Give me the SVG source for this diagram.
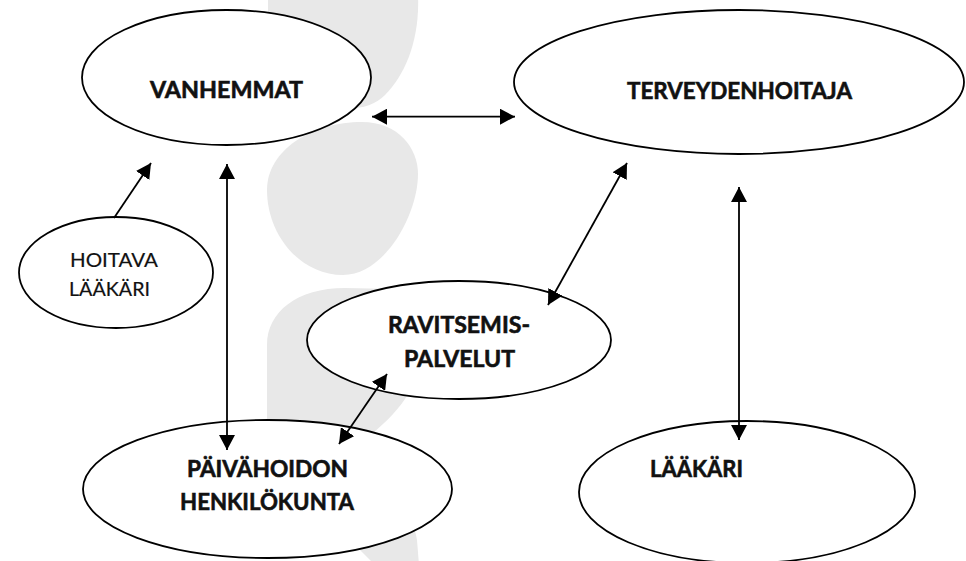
<svg xmlns="http://www.w3.org/2000/svg" width="966" height="561" viewBox="0 0 966 561">
<style>
.wm{fill:#e8e8e8;stroke:none}
.node{fill:#ffffff;stroke:#000000;stroke-width:1.8}
.lb{font-family:Lato,"Open Sans","Liberation Sans",sans-serif;font-weight:bold;font-size:23px;fill:#111111;stroke:#111111;stroke-width:0.6}
.lr{font-family:Lato,"Open Sans","Liberation Sans",sans-serif;font-weight:normal;font-size:20px;fill:#111111;stroke:#111111;stroke-width:0.2}
.edge{fill:none;stroke:#000000;stroke-width:1.8}
</style>
<defs>
<marker id="ah" viewBox="0 0 15 16" refX="15" refY="8" markerWidth="15" markerHeight="16" markerUnits="userSpaceOnUse" orient="auto-start-reverse">
<path d="M0,0 L15,8 L0,16 Z" fill="#000000"/>
</marker>
</defs>
<rect x="0" y="0" width="966" height="561" fill="#ffffff"/>
<g id="watermark">
<path class="wm" d="M268,-5 L418,-5 C420,40 405,75 385,95 C375,105 360,110 340,108 C300,100 280,60 268,30 Z"/>
<path class="wm" d="M362,122 C398,122 418,148 418,174 C418,214 385,275 343,275 C300,275 267,235 267,190 C267,150 312,122 362,122 Z"/>
<path class="wm" d="M267,345 C267,312 297,288 345,288 L445,290 L440,390 L408,394 C400,408 388,420 372,434 L380,470 C400,500 414,520 417,540 L419,565 L375,565 L330,520 L267,470 Z"/>
</g>
<g id="vanhemmat">
<ellipse class="node" cx="226.5" cy="77.5" rx="144.5" ry="67.5"/>
<text class="lb" x="226.5" y="98" text-anchor="middle" textLength="153" lengthAdjust="spacingAndGlyphs">VANHEMMAT</text>
</g>
<g id="terveydenhoitaja">
<ellipse class="node" cx="739" cy="82" rx="225" ry="72"/>
<text class="lb" x="739.5" y="99" text-anchor="middle" textLength="225" lengthAdjust="spacingAndGlyphs">TERVEYDENHOITAJA</text>
</g>
<g id="hoitava-laakari">
<ellipse class="node" cx="116" cy="272.5" rx="97" ry="55.5"/>
<text class="lr" x="70" y="267" textLength="88" lengthAdjust="spacingAndGlyphs">HOITAVA</text>
<text class="lr" x="69" y="296" textLength="81" lengthAdjust="spacingAndGlyphs">LÄÄKÄRI</text>
</g>
<g id="ravitsemispalvelut">
<ellipse class="node" cx="459" cy="340" rx="152" ry="59"/>
<text class="lb" x="459" y="333" text-anchor="middle" textLength="142" lengthAdjust="spacingAndGlyphs">RAVITSEMIS-</text>
<text class="lb" x="459.5" y="367" text-anchor="middle" textLength="111" lengthAdjust="spacingAndGlyphs">PALVELUT</text>
</g>
<g id="paivahoidon-henkilokunta">
<ellipse class="node" cx="267.5" cy="489" rx="184.5" ry="69"/>
<text class="lb" x="267.5" y="477" text-anchor="middle" textLength="161" lengthAdjust="spacingAndGlyphs">PÄIVÄHOIDON</text>
<text class="lb" x="267" y="510" text-anchor="middle" textLength="174" lengthAdjust="spacingAndGlyphs">HENKILÖKUNTA</text>
</g>
<g id="laakari">
<ellipse class="node" cx="747" cy="492" rx="168" ry="71"/>
<text class="lb" x="650" y="477" textLength="93" lengthAdjust="spacingAndGlyphs">LÄÄKÄRI</text>
</g>
<g id="connectors">
<line class="edge" x1="372" y1="116.7" x2="515" y2="116.7" marker-start="url(#ah)" marker-end="url(#ah)"/>
<line class="edge" x1="114" y1="218" x2="151" y2="163" marker-end="url(#ah)"/>
<line class="edge" x1="227" y1="164" x2="227" y2="450" marker-start="url(#ah)" marker-end="url(#ah)"/>
<line class="edge" x1="627" y1="163" x2="548" y2="305" marker-start="url(#ah)" marker-end="url(#ah)"/>
<line class="edge" x1="739" y1="187" x2="739" y2="440" marker-start="url(#ah)" marker-end="url(#ah)"/>
<line class="edge" x1="387" y1="374" x2="339" y2="444" marker-start="url(#ah)" marker-end="url(#ah)"/>
</g>
</svg>
